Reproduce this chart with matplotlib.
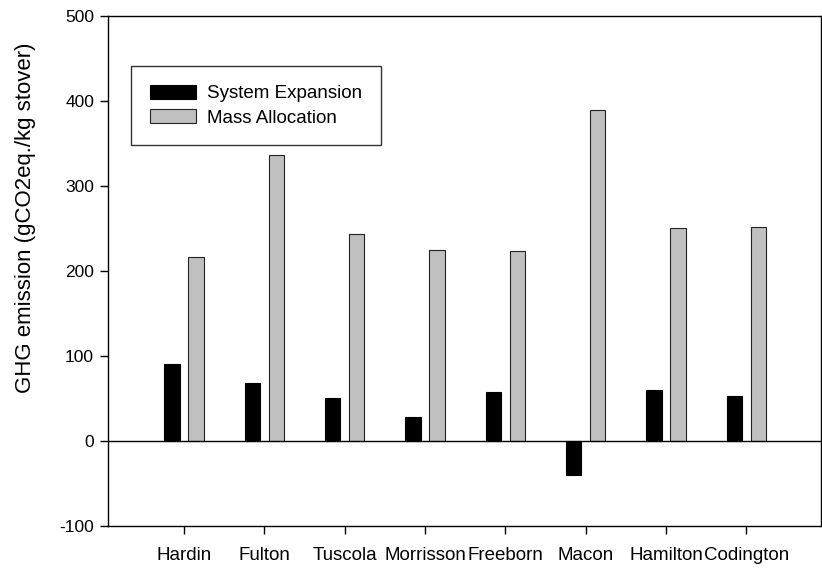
import matplotlib
matplotlib.use("Agg")
import matplotlib.pyplot as plt
import numpy as np

plt.rcParams['font.family'] = ['Liberation Sans', 'DejaVu Sans']
plt.rcParams['axes.unicode_minus'] = False

condados = ["Hardin", "Fulton", "Tuscola", "Morrisson", "Freeborn", "Macon", "Hamilton", "Codington"]
system_expansion = [90, 68, 50, 28, 58, -40, 60, 53]
mass_allocation = [217, 336, 243, 225, 224, 390, 251, 252]

fig = plt.figure(figsize=(8.22, 5.68), dpi=100)
ax = fig.add_axes([0.1314, 0.074, 0.8674, 0.8978])

x = np.arange(1, len(condados) + 1)
ancho = 0.19
ax.bar(x - 0.15, system_expansion, ancho, color='black', edgecolor='black', linewidth=0.8,
       label='System Expansion')
ax.bar(x + 0.15, mass_allocation, ancho, color='#c0c0c0', edgecolor='#222222', linewidth=0.8,
       label='Mass Allocation')
ax.axhline(0, color='black', linewidth=1.0)

ax.set_xlim(0.055, 8.93)
ax.set_ylim(-100, 500)
ax.set_yticks(range(-100, 501, 100))
ax.set_xticks(x)
ax.set_xticklabels(condados, fontsize=13.5)
ax.tick_params(axis='y', labelsize=12.5, direction='out', length=6, width=1, pad=4)
ax.tick_params(axis='x', direction='out', length=6, width=1, pad=9)
for s in ax.spines.values():
    s.set_linewidth(1.0)
ax.set_ylabel("GHG emission (gCO2eq./kg stover)", fontsize=16)
ax.yaxis.set_label_coords(-0.101, 0.604)

leg = ax.legend(loc='upper left', bbox_to_anchor=(0.032, 0.902), borderaxespad=0,
                fontsize=13.5, frameon=True, fancybox=False, edgecolor='black',
                handlelength=2.45, handleheight=0.8, borderpad=1.0, labelspacing=0.35,
                handletextpad=0.6)
leg.get_frame().set_linewidth(1.0)

plt.savefig("out.png", dpi=100)
